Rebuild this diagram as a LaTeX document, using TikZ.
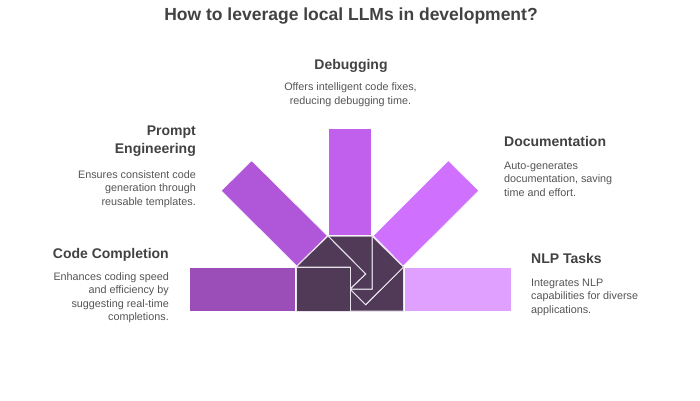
\documentclass[tikz,border=0pt]{standalone}
\usepackage{fontspec}
\setmainfont{Liberation Sans}
\definecolor{txtdark}{HTML}{424242}
\definecolor{txtbody}{HTML}{555555}
\definecolor{hub}{HTML}{503A58}
\definecolor{edgeline}{HTML}{E8E2EA}
\definecolor{cA}{HTML}{9B4DB8}
\definecolor{cB}{HTML}{B056D8}
\definecolor{cC}{HTML}{C060EC}
\definecolor{cD}{HTML}{CF70FF}
\definecolor{cE}{HTML}{E0A0FF}
\tikzset{
  x=1pt,y=-1pt,
  head/.style={inner sep=0pt,font=\bfseries\fontsize{14}{18}\selectfont,text=txtdark},
  body/.style={inner sep=0pt,font=\fontsize{10.8}{13.5}\selectfont,text=txtbody},
  blade/.style={draw=white,line width=0.5pt},
  piece/.style={fill=hub,draw=edgeline,line width=1pt,line join=miter},
}
\begin{document}
\begin{tikzpicture}
\useasboundingbox (0,0) rectangle (700,400);
\fill[white] (0,0) rectangle (700,400);
\node[inner sep=0pt,font=\bfseries\fontsize{17.5}{18}\selectfont,text=txtdark] (title) at (351,16) {How to leverage local LLMs in development?};
% blades
\fill[blade,fill=cA] (189,267.5) rectangle (295.7,311);
\fill[blade,fill=cB] (251.7,160.7) -- (221.3,190.7) -- (296.7,266) -- (327.3,235.7) -- cycle;
\fill[blade,fill=cC] (328.3,128.3) rectangle (371.7,235);
\fill[blade,fill=cD] (448.3,160.7) -- (478.7,190.7) -- (403.3,266) -- (373.3,235.7) -- cycle;
\fill[blade,fill=cE] (404.3,267.5) rectangle (511,311);
% hub pieces
\draw[piece] (403.5,267) -- (403.5,311) -- (350,311) -- (350,289) -- (365.7,304.7) -- cycle;
\draw[piece] (372,236) -- (403.5,267) -- (365.7,304.7) -- (350,289) -- (372,289) -- cycle;
\draw[piece] (328,236) -- (372,236) -- (372,289) -- (350,289) -- (365.7,274) -- cycle;
\draw[piece] (328,236) -- (365.7,274) -- (350,289) -- (350,267) -- (296,267) -- cycle;
\draw[piece] (296,267) rectangle (350,311);
% labels
\node[head,anchor=east,align=right] (h1) at (169,254.5) {Code Completion};
\node[body,anchor=north east,align=right] (b1) at (169,272) {Enhances coding speed\\and efficiency by\\suggesting real-time\\completions.};
\node[head,anchor=east,align=right] (h2) at (196,141.5) {Prompt\\Engineering};
\node[body,anchor=north east,align=right] (b2) at (196,170) {Ensures consistent code\\generation through\\reusable templates.};
\node[head] (h3) at (351,65.5) {Debugging};
\node[body,anchor=north,align=center] (b3) at (350.5,82.5) {Offers intelligent code fixes,\\reducing debugging time.};
\node[head,anchor=west] (h4) at (504,141.5) {Documentation};
\node[body,anchor=north west,align=left] (b4) at (504,161.5) {Auto-generates\\documentation, saving\\time and effort.};
\node[head,anchor=west] (h5) at (531,258.5) {NLP Tasks};
\node[body,anchor=north west,align=left] (b5) at (531,278.5) {Integrates NLP\\capabilities for diverse\\applications.};
\end{tikzpicture}
\end{document}
